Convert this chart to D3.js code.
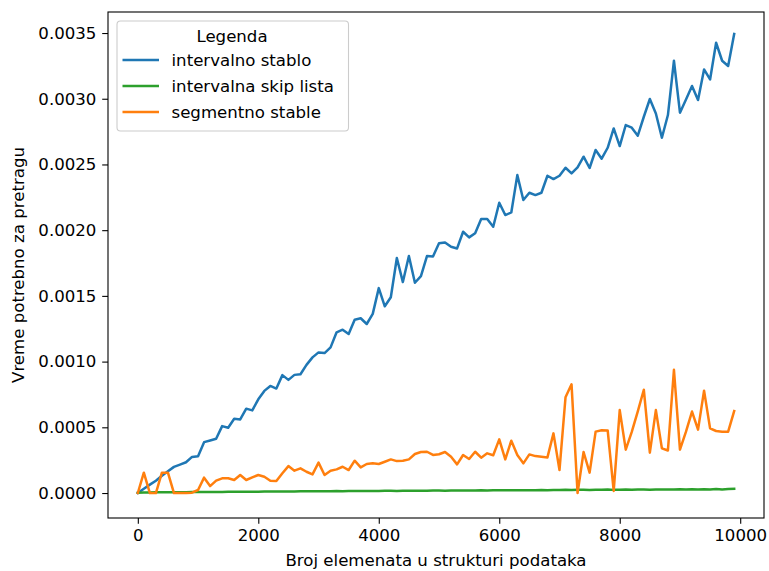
<!DOCTYPE html>
<html>
<head>
<meta charset="utf-8">
<script src="https://cdn.jsdelivr.net/npm/d3@7"></script>
<style>
  html, body { margin: 0; padding: 0; background: #fff; }
  svg { display: block; font-family: "DejaVu Sans", sans-serif; }
</style>
</head>
<body>
<svg id="chart" width="769" height="571"></svg>
<script>
const xValues = [0,100,200,300,400,500,600,700,800,900,1000,1100,1200,1300,1400,1500,1600,1700,1800,1900,2000,2100,2200,2300,2400,2500,2600,2700,2800,2900,3000,3100,3200,3300,3400,3500,3600,3700,3800,3900,4000,4100,4200,4300,4400,4500,4600,4700,4800,4900,5000,5100,5200,5300,5400,5500,5600,5700,5800,5900,6000,6100,6200,6300,6400,6500,6600,6700,6800,6900,7000,7100,7200,7300,7400,7500,7600,7700,7800,7900,8000,8100,8200,8300,8400,8500,8600,8700,8800,8900,9000,9100,9200,9300,9400,9500,9600,9700,9800,9900];

const intervalnoStablo = [
  0, 0.000033, 0.000064, 0.000094, 0.000132, 0.000166, 0.000199, 0.000216, 0.000234, 0.000275,
  0.00028, 0.000387, 0.0004, 0.000413, 0.000509, 0.000497, 0.000565, 0.00056, 0.000642, 0.000629,
  0.000713, 0.000777, 0.000815, 0.000795, 0.000897, 0.000861, 0.000899, 0.000904, 0.000975, 0.001032,
  0.00107, 0.001065, 0.001108, 0.001223, 0.001243, 0.00121, 0.001319, 0.00133, 0.001286, 0.001363,
  0.001559, 0.001421, 0.00149, 0.001788, 0.001605, 0.001803, 0.0016, 0.00165, 0.001803, 0.0018,
  0.0019, 0.001907, 0.001874, 0.001861, 0.001988, 0.001945, 0.001976, 0.002085, 0.002085, 0.002026,
  0.002209, 0.002115, 0.002135, 0.002419, 0.002229, 0.002285, 0.002267, 0.002285, 0.002414, 0.002389,
  0.002414, 0.002475, 0.002432, 0.002478, 0.002559, 0.002473, 0.00261, 0.002544, 0.002627, 0.002774,
  0.00264, 0.0028, 0.00278, 0.002719, 0.002863, 0.002998, 0.002888, 0.002703, 0.002876, 0.003289,
  0.002894, 0.002995, 0.003097, 0.00299, 0.003223, 0.003147, 0.003426, 0.003289, 0.003249, 0.003492
];

const intervalnaSkipLista = [
  0.000003, 0.000004, 0.000004, 0.000005, 0.000005, 0.000005, 0.000006, 0.000006, 0.000006, 0.000007,
  0.000007, 0.000007, 0.000008, 0.000008, 0.000008, 0.000009, 0.000009, 0.000009, 0.00001, 0.00001,
  0.00001, 0.000011, 0.000011, 0.000011, 0.000012, 0.000012, 0.000012, 0.000013, 0.000013, 0.000013,
  0.000014, 0.000013, 0.000014, 0.000015, 0.000014, 0.000015, 0.000015, 0.000016, 0.000015, 0.000016,
  0.000016, 0.000017, 0.000017, 0.000016, 0.000017, 0.000018, 0.000018, 0.000017, 0.000018, 0.000019,
  0.000019, 0.000018, 0.000019, 0.00002, 0.000019, 0.00002, 0.00002, 0.000021, 0.00002, 0.000021,
  0.000021, 0.000022, 0.000021, 0.000022, 0.000022, 0.000021, 0.000022, 0.000023, 0.000022, 0.000023,
  0.000023, 0.000024, 0.000023, 0.000024, 0.000024, 0.000023, 0.000024, 0.000025, 0.000027, 0.000024,
  0.000025, 0.000026, 0.000025, 0.000026, 0.000027, 0.000025, 0.000026, 0.000027, 0.000026, 0.000027,
  0.000028, 0.000027, 0.000028, 0.000027, 0.000029, 0.000026, 0.000031, 0.000027, 0.00003, 0.000032
];

const segmentnoStable = [
  0, 0.000155, 0, 0, 0.000155, 0.000155, 0, 0, 0, 0.000003,
  0.000023, 0.000117, 0.000053, 0.000094, 0.000112, 0.000112, 0.000099, 0.000137, 0.000099, 0.000119,
  0.000137, 0.000124, 0.000094, 0.000091, 0.00015, 0.000205, 0.00017, 0.000188, 0.000162, 0.000142,
  0.000231, 0.000137, 0.00017, 0.00018, 0.0002, 0.000175, 0.000246, 0.000195, 0.000221, 0.000226,
  0.000221, 0.000238, 0.000256, 0.000243, 0.000246, 0.000256, 0.000297, 0.000312, 0.000314, 0.00029,
  0.000295, 0.000312, 0.000276, 0.000218, 0.000289, 0.000259, 0.000314, 0.000269, 0.000302, 0.000287,
  0.000408, 0.000256, 0.000398, 0.000289, 0.000226, 0.000294, 0.000281, 0.000276, 0.000271, 0.000454,
  0.000175, 0.000728, 0.000827, 0, 0.000312, 0.000155, 0.000467, 0.000478, 0.000476, 0.000016,
  0.000631, 0.00033, 0.000465, 0.000622, 0.000786, 0.000307, 0.000631, 0.00034, 0.000324, 0.000938,
  0.00033, 0.000467, 0.00062, 0.000482, 0.000779, 0.000492, 0.000472, 0.000467, 0.000467, 0.000624
];

const seriesNames = ["intervalno stablo", "intervalna skip lista", "segmentno stable"];
const seriesColors = ["#1f77b4", "#2ca02c", "#ff7f0e"];
const seriesData = [intervalnoStablo, intervalnaSkipLista, segmentnoStable];

const xTicks = [0, 2000, 4000, 6000, 8000, 10000];
const yTicks = [0, 0.0005, 0.001, 0.0015, 0.002, 0.0025, 0.003, 0.0035];

const legendTitle = "Legenda";
const xLabel = "Broj elemenata u strukturi podataka";
const yLabel = "Vreme potrebno za pretragu";

// layout
const L = 108, R = 764, T = 12, B = 518;
const fontSize = 16.6;

const svg = d3.select("#chart");
svg.append("rect").attr("width", 769).attr("height", 571).attr("fill", "#fff");

const x = d3.scaleLinear().domain([-495, 10395]).range([L, R]);
const y = d3.scaleLinear().domain([-0.00019, 0.00366]).range([B, T]);

const clipId = "plotclip";
svg.append("defs").append("clipPath").attr("id", clipId)
  .append("rect").attr("x", L).attr("y", T).attr("width", R - L).attr("height", B - T);

const plot = svg.append("g").attr("clip-path", `url(#${clipId})`);
const line = d3.line().x((d, i) => x(xValues[i])).y(d => y(d));

seriesData.forEach((s, k) => {
  plot.append("path")
    .datum(s)
    .attr("fill", "none")
    .attr("stroke", seriesColors[k])
    .attr("stroke-width", 2.5)
    .attr("stroke-linejoin", "round")
    .attr("stroke-linecap", "square")
    .attr("d", line);
});

// axes
const xAxis = d3.axisBottom(x).tickValues(xTicks).tickFormat(d3.format("d")).tickSize(5.8).tickPadding(5.8);
const yAxis = d3.axisLeft(y).tickValues(yTicks).tickFormat(d3.format(".4f")).tickSize(5.8).tickPadding(5.8);

const gx = svg.append("g").attr("transform", `translate(0,${B})`).call(xAxis);
const gy = svg.append("g").attr("transform", `translate(${L},0)`).call(yAxis);
[gx, gy].forEach(g => {
  g.select(".domain").remove();
  g.selectAll(".tick line").attr("stroke", "#000").attr("stroke-width", 1.1);
  g.selectAll(".tick text").attr("fill", "#000").style("font-size", fontSize + "px")
    .style("font-family", "'DejaVu Sans', sans-serif");
});

// spines
svg.append("rect").attr("x", L).attr("y", T).attr("width", R - L).attr("height", B - T)
  .attr("fill", "none").attr("stroke", "#000").attr("stroke-width", 1.1);

// axis labels
svg.append("text").attr("x", (L + R) / 2).attr("y", 566).attr("text-anchor", "middle")
  .style("font-size", fontSize + "px").attr("fill", "#000").text(xLabel);
svg.append("text").attr("transform", `translate(24,${(T + B) / 2}) rotate(-90)`)
  .attr("text-anchor", "middle").style("font-size", fontSize + "px").attr("fill", "#000").text(yLabel);

// legend
const lg = svg.append("g");
lg.append("rect").attr("x", 117).attr("y", 21).attr("width", 231.5).attr("height", 110)
  .attr("rx", 3.5).attr("fill", "#fff").attr("fill-opacity", 0.8)
  .attr("stroke", "#cccccc").attr("stroke-width", 1.1);
lg.append("text").attr("x", 232).attr("y", 36).attr("dy", "0.36em").attr("text-anchor", "middle")
  .style("font-size", fontSize + "px").attr("fill", "#000").text(legendTitle);
seriesNames.forEach((name, k) => {
  const cy = 60 + k * 26;
  lg.append("line").attr("x1", 122.5).attr("x2", 159).attr("y1", cy).attr("y2", cy)
    .attr("stroke", seriesColors[k]).attr("stroke-width", 2.5);
  lg.append("text").attr("x", 171.5).attr("y", cy).attr("dy", "0.36em")
    .style("font-size", fontSize + "px").attr("fill", "#000").text(name);
});
</script>
</body>
</html>
